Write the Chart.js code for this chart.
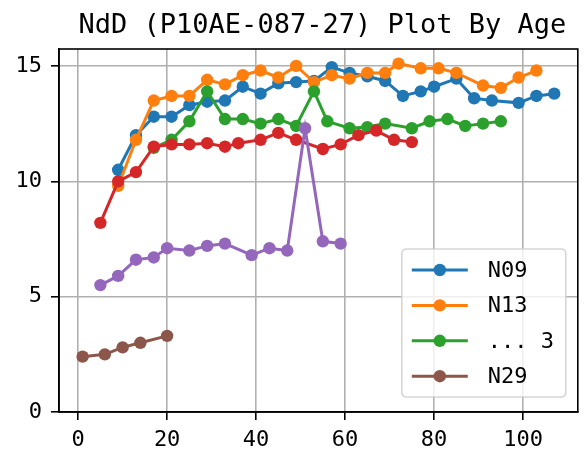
<!DOCTYPE html>
<html>
<head>
<meta charset="utf-8">
<script src="https://cdn.jsdelivr.net/npm/chart.js@4/dist/chart.umd.min.js"></script>
<style>
html,body{margin:0;padding:0;background:#fff;}
canvas{display:block;}
</style>
</head>
<body>
<canvas id="c" width="584" height="459"></canvas>
<script>
const titleText = "NdD (P10AE-087-27) Plot By Age";
const seriesLabels = ["N09", "N13", "... 3", "", "", "N29"];
const seriesColors = ["#1f77b4", "#ff7f0e", "#2ca02c", "#d62728", "#9467bd", "#8c564b"];

const agesN09 = [9,13,17,21,25,29,33,37,41,45,49,53,57,61,65,69,73,77,80,85,89,93,99,103,107];
const valsN09 = [10.5,12.0,12.8,12.8,13.3,13.45,13.5,14.1,13.8,14.25,14.3,14.35,14.95,14.7,14.55,14.35,13.7,13.9,14.1,14.45,13.6,13.5,13.4,13.7,13.8];

const agesN13 = [9,13,17,21,25,29,33,37,41,45,49,53,57,61,65,69,72,77,81,85,91,95,99,103];
const valsN13 = [9.8,11.8,13.5,13.7,13.7,14.4,14.2,14.6,14.8,14.5,15.0,14.3,14.6,14.45,14.7,14.7,15.1,14.9,14.9,14.7,14.15,14.05,14.5,14.8];

const agesS3 = [17,21,25,29,33,37,41,45,49,53,56,61,65,69,75,79,83,87,91,95];
const valsS3 = [11.45,11.8,12.6,13.9,12.7,12.7,12.5,12.7,12.4,13.9,12.6,12.3,12.35,12.5,12.3,12.6,12.7,12.4,12.5,12.6];

const agesRed = [5,9,13,17,21,25,29,33,36,41,45,49,55,59,63,67,71,75];
const valsRed = [8.2,10.0,10.4,11.5,11.6,11.6,11.65,11.5,11.65,11.8,12.1,11.8,11.4,11.6,12.0,12.2,11.8,11.7];

const agesPurple = [5,9,13,17,20,25,29,33,39,43,47,51,55,59];
const valsPurple = [5.5,5.9,6.6,6.7,7.1,7.0,7.2,7.3,6.8,7.1,7.0,12.3,7.4,7.3];

const agesN29 = [1,6,10,14,20];
const valsN29 = [2.4,2.5,2.8,3.0,3.3];

const xTicks = [0,20,40,60,80,100];
const yTicks = [0,5,10,15];

const allAges = [agesN09, agesN13, agesS3, agesRed, agesPurple, agesN29];
const allVals = [valsN09, valsN13, valsS3, valsRed, valsPurple, valsN29];

const FONT = "'DejaVu Sans Mono', monospace";

const datasets = allAges.map((ages, i) => ({
  label: seriesLabels[i],
  data: ages.map((a, j) => ({x: a, y: allVals[i][j]})),
  borderColor: seriesColors[i],
  backgroundColor: seriesColors[i],
  pointBackgroundColor: seriesColors[i],
  pointBorderColor: seriesColors[i],
  pointBorderWidth: 0,
  pointRadius: 6.2,
  borderWidth: 3,
  tension: 0,
  fill: false,
  order: 10 - i
}));

const framePlugin = {
  id: 'frame',
  afterDraw(chart) {
    const ctx = chart.ctx, a = chart.chartArea;
    ctx.save();
    ctx.strokeStyle = '#000';
    ctx.lineWidth = 1.6;
    ctx.strokeRect(a.left, a.top, a.right - a.left, a.bottom - a.top);
    // title
    ctx.fillStyle = '#000';
    ctx.font = "27px " + FONT;
    ctx.textAlign = 'center';
    ctx.textBaseline = 'alphabetic';
    ctx.fillText(titleText, (a.left + a.right) / 2 + 4, 33);
    // legend
    const entries = [];
    seriesLabels.forEach((l, i) => { if (l) entries.push(i); });
    const bx = a.right - 176, by = a.bottom - 163, bw = 164, bh = 148;
    const r = 5;
    ctx.beginPath();
    ctx.moveTo(bx + r, by);
    ctx.lineTo(bx + bw - r, by);
    ctx.quadraticCurveTo(bx + bw, by, bx + bw, by + r);
    ctx.lineTo(bx + bw, by + bh - r);
    ctx.quadraticCurveTo(bx + bw, by + bh, bx + bw - r, by + bh);
    ctx.lineTo(bx + r, by + bh);
    ctx.quadraticCurveTo(bx, by + bh, bx, by + bh - r);
    ctx.lineTo(bx, by + r);
    ctx.quadraticCurveTo(bx, by, bx + r, by);
    ctx.closePath();
    ctx.fillStyle = 'rgba(255,255,255,0.8)';
    ctx.fill();
    ctx.strokeStyle = 'rgba(204,204,204,0.8)';
    ctx.lineWidth = 1.6;
    ctx.stroke();
    ctx.font = "22px " + FONT;
    ctx.textAlign = 'left';
    ctx.textBaseline = 'middle';
    entries.forEach((idx, k) => {
      const y = by + 21 + k * 35.4;
      ctx.strokeStyle = seriesColors[idx];
      ctx.lineWidth = 3;
      ctx.beginPath();
      ctx.moveTo(bx + 10, y);
      ctx.lineTo(bx + 66, y);
      ctx.stroke();
      ctx.fillStyle = seriesColors[idx];
      ctx.beginPath();
      ctx.arc(bx + 38, y, 6.2, 0, Math.PI * 2);
      ctx.fill();
      ctx.fillStyle = '#000';
      ctx.fillText(seriesLabels[idx], bx + 86, y + 1);
    });
    ctx.restore();
  }
};

const axisCommon = {
  grid: {color: '#b0b0b0', lineWidth: 1.6, tickColor: '#000', tickLength: 8, tickWidth: 1.6},
  border: {color: '#000', width: 1.6},
};

new Chart(document.getElementById('c'), {
  type: 'line',
  data: {datasets},
  plugins: [framePlugin],
  options: {
    responsive: false,
    animation: false,
    devicePixelRatio: 1,
    layout: {padding: {top: 49, right: 1, left: 0, bottom: 0}},
    plugins: {legend: {display: false}, title: {display: false}, tooltip: {enabled: false}},
    scales: {
      x: {
        type: 'linear', min: -4.3, max: 112.3,
        ...axisCommon,
        afterBuildTicks: s => { s.ticks = xTicks.map(v => ({value: v})); },
        afterFit: s => { s.height = 47; },
        ticks: {font: {family: FONT, size: 22}, color: '#000', padding: 7, maxRotation: 0, autoSkip: false}
      },
      y: {
        type: 'linear', min: 0, max: 15.735,
        ...axisCommon,
        afterBuildTicks: s => { s.ticks = yTicks.map(v => ({value: v})); },
        afterFit: s => { s.width = 59; },
        ticks: {font: {family: FONT, size: 22}, color: '#000', padding: 9, autoSkip: false}
      }
    }
  }
});
</script>
</body>
</html>
